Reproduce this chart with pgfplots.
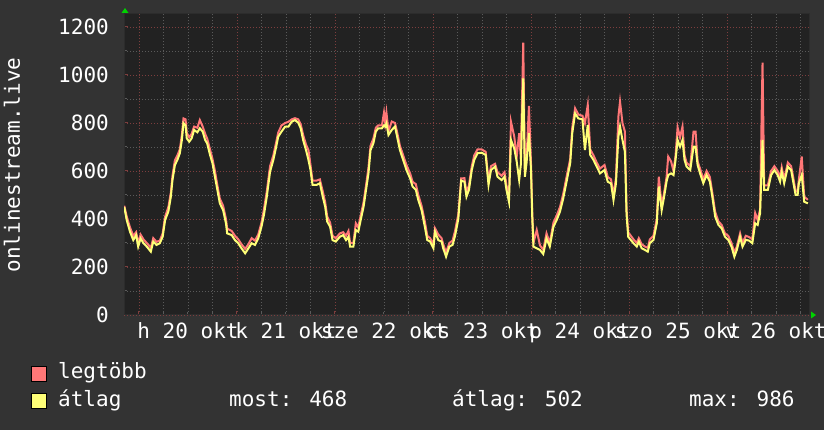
\documentclass[border=0pt]{standalone}
\usepackage{fontspec}
\setmainfont{DejaVu Sans Mono}
\usepackage{pgfplots}
\usepackage{pgfplotstable}
\pgfplotsset{compat=1.18}

\definecolor{bgout}{RGB}{51,51,51}
\definecolor{bgplot}{RGB}{34,34,34}
\definecolor{maxc}{RGB}{255,119,119}
\definecolor{avgc}{RGB}{255,255,119}
\definecolor{gridmin}{RGB}{90,90,90}
\definecolor{gridmaj}{RGB}{125,62,62}
\definecolor{axisc}{RGB}{44,44,44}
\definecolor{arrowc}{RGB}{0,210,0}

% hours since Mon 20 Oct 00:00, max and average of the interval
\pgfplotstableread{
h     max   avg
-3.6  455   450
-3.0  410   395
-2.2  365   347
-1.4  330   312
-0.7  345   333
-0.2  300   285
0.4   335   319
1.1   315   299
1.9   300   285
2.9   280   264
3.5   320   306
4.3   305   292
5.1   310   299
5.8   340   326
6.4   410   396
7.2   450   431
7.8   510   493
8.2   580   562
8.8   645   625
9.4   665   646
10.0  690   674
10.5  750   729
10.9  819   799
11.4  815   790
11.7  760   736
12.3  740   722
12.9  755   736
13.5  785   771
14.3  780   761
14.9  812   778
15.6  785   764
16.2  755   729
16.7  735   715
17.4  690   667
18.0  650   632
18.6  600   576
19.2  540   521
19.8  485   465
20.6  455   437
21.3  400   382
21.6  360   340
22.7  350   333
23.5  330   312
24.3  315   299
25.1  295   278
26.0  275   257
26.8  295   278
27.6  320   299
28.4  310   292
29.2  335   319
30.0  385   368
30.6  440   417
31.3  515   493
32.1  620   597
32.9  665   646
33.6  720   701
34.1  760   743
34.9  790   764
35.8  800   785
36.6  805   785
37.4  815   805
38.2  820   812
39.0  815   801
39.6  795   778
40.2  750   729
40.9  710   687
41.5  687   646
42.0  625   604
42.5  560   542
43.5  560   542
44.3  565   549
45.0  515   493
45.6  470   451
46.1  410   389
46.8  385   368
47.4  330   312
48.2  320   306
49.2  340   326
50.0  345   333
50.7  330   312
51.3  350   326
51.7  300   285
52.5  300   285
53.1  382   354
53.7  365   347
54.3  415   396
55.0  470   451
55.6  540   521
56.2  615   590
56.7  705   687
57.4  735   715
58.0  780   764
58.6  790   778
59.5  790   778
60.0  843   790
60.3  800   785
60.6  843   799
61.1  765   750
61.9  806   771
62.7  800   785
63.3  755   736
63.9  705   687
64.7  665   646
65.5  625   604
66.4  590   569
67.0  555   535
67.8  545   521
68.4  500   479
69.2  455   437
70.0  390   368
70.6  330   312
71.3  320   306
72.1  295   278
72.5  361   347
73.3  335   312
74.1  320   306
74.5  295   278
75.2  260   243
76.0  300   285
76.8  310   292
77.4  350   330
78.2  420   400
78.9  569   560
79.7  570   555
80.2  510   493
80.8  540   521
81.5  620   604
82.1  665   646
82.9  690   674
83.9  690   676
84.9  680   667
85.6  560   542
86.2  620   604
87.2  630   618
87.8  595   576
88.8  580   562
89.5  595   576
90.0  540   521
90.6  490   472
91.1  805   729
91.9  743   694
92.5  660   639
93.1  757   562
93.5  650   625
94.1  1135  986
94.5  600   576
94.9  650   632
95.5  871   757
96.0  630   604
96.3  430   410
96.6  300   285
97.4  354   278
98.2  290   271
99.0  271   254
99.8  340   319
100.6 300   285
101.5 385   368
102.3 415   396
103.1 450   431
103.9 505   486
104.7 575   555
105.6 650   632
106.1 780   757
106.8 861   840
107.6 835   819
108.6 830   815
109.2 799   687
109.9 875   792
110.5 690   667
111.3 665   646
112.1 635   618
112.9 610   590
114.0 625   604
114.8 575   555
115.6 565   548
116.2 500   479
116.8 570   548
117.4 826   743
117.8 889   785
118.4 800   729
119.0 764   680
119.4 440   420
119.8 345   326
121.1 315   299
121.9 300   285
122.4 320   306
123.1 295   278
123.9 285   271
124.6 280   264
125.1 315   299
126.0 330   313
126.8 400   382
127.3 576   535
128.0 455   437
128.6 510   493
129.2 575   556
129.6 660   583
130.3 640   590
130.9 600   583
131.4 665   646
131.9 782   729
132.5 740   701
133.1 785   729
133.6 665   646
134.1 635   618
135.0 620   604
135.8 764   701
136.3 764   701
136.8 640   625
137.4 610   590
138.2 565   549
139.0 600   583
139.8 575   556
140.4 510   493
141.1 430   410
141.9 390   375
142.7 375   361
143.5 340   326
144.3 330   313
145.1 300   285
145.8 260   243
146.4 285   271
147.2 340   326
147.8 300   285
148.6 330   313
149.4 325   310
150.2 315   299
150.9 425   382
151.5 395   375
152.1 440   424
152.7 1051  729
153.1 540   521
154.0 540   521
154.8 600   583
155.6 620   604
156.4 600   583
157.0 575   556
157.4 615   597
158.0 565   549
158.9 635   618
159.7 620   604
160.2 575   556
160.8 515   500
161.3 515   500
161.6 565   549
162.3 660   583
162.9 493   472
163.8 480   465
}\streamdata

\newcommand{\bigfont}{\fontsize{21bp}{25bp}\selectfont}

\begin{document}
\begin{tikzpicture}
\fill[bgout] (0,0) rectangle (824bp,430bp);
\begin{axis}[
  at={(124bp,115bp)}, anchor=south west,
  width=685bp, height=301bp, scale only axis,
  xmin=-3.67, xmax=164.08, ymin=0, ymax=1254,
  axis background/.style={fill=bgplot},
  axis line style={draw=axisc, line width=1bp},
  xtick={0,24,...,144}, xticklabels={},
  minor xtick={6,12,18,30,36,42,54,60,66,78,84,90,102,108,114,126,132,138,150,156,162},
  ytick={0,200,...,1200},
  minor ytick={100,300,...,1100},
  grid=both,
  major grid style={draw=gridmaj, line width=0.8bp, dash pattern=on 1bp off 2bp},
  minor grid style={draw=gridmin, line width=0.8bp, dash pattern=on 1bp off 2bp},
  xtick pos=bottom, ytick pos=left,
  tick align=inside,
  major tick length=4bp, minor tick length=3bp,
  major tick style={draw=gridmaj, line width=1bp, solid},
  minor tick style={draw=gridmin, line width=1bp, solid},
  tick label style={font=\bigfont, text=white},
  /pgf/number format/assume math mode=true,
  /pgf/number format/1000 sep={},
  yticklabel style={anchor=east, inner sep=0pt, xshift=-15bp},
  extra x ticks={12,36,60,84,108,132,156},
  extra x tick labels={h 20 okt, k 21 okt, sze 22 okt, cs 23 okt, p 24 okt, szo 25 okt, v 26 okt},
  extra x tick style={grid=none, major tick length=0pt,
    xticklabel style={anchor=north, inner sep=0pt, yshift=-7bp}},
]
\addplot[draw=maxc, line width=2bp] table[x=h, y=max] {\streamdata};
\addplot[draw=avgc, line width=2bp] table[x=h, y=avg] {\streamdata};
\end{axis}
% axis arrows
\fill[arrowc] (121.5bp,417bp) -- (128.5bp,417bp) -- (125bp,422bp) -- cycle;
\fill[arrowc] (811bp,111.5bp) -- (811bp,118.5bp) -- (816bp,115bp) -- cycle;
% y label
\node[rotate=90, text=white, inner sep=0pt, font=\bigfont] at (12bp,265bp) {onlinestream.live};
% legend
\filldraw[fill=maxc, draw=black, line width=0.8bp] (31.5bp,49bp) rectangle (46.5bp,64bp);
\filldraw[fill=avgc, draw=black, line width=0.8bp] (31.5bp,21.5bp) rectangle (46.5bp,36.5bp);
\node[anchor=base west, inner sep=0pt, text=white, font=\bigfont] at (58bp,51bp) {legtöbb};
\node[anchor=base west, inner sep=0pt, text=white, font=\bigfont] at (58bp,24bp) {átlag};
\node[anchor=base west, inner sep=0pt, text=white, font=\bigfont] at (229bp,24bp) {most: 468};
\node[anchor=base west, inner sep=0pt, text=white, font=\bigfont] at (452bp,24bp) {átlag: 502};
\node[anchor=base west, inner sep=0pt, text=white, font=\bigfont] at (689bp,24bp) {max: 986};
\pgfresetboundingbox
\path (0,0) rectangle (824bp,430bp);
\end{tikzpicture}
\end{document}
